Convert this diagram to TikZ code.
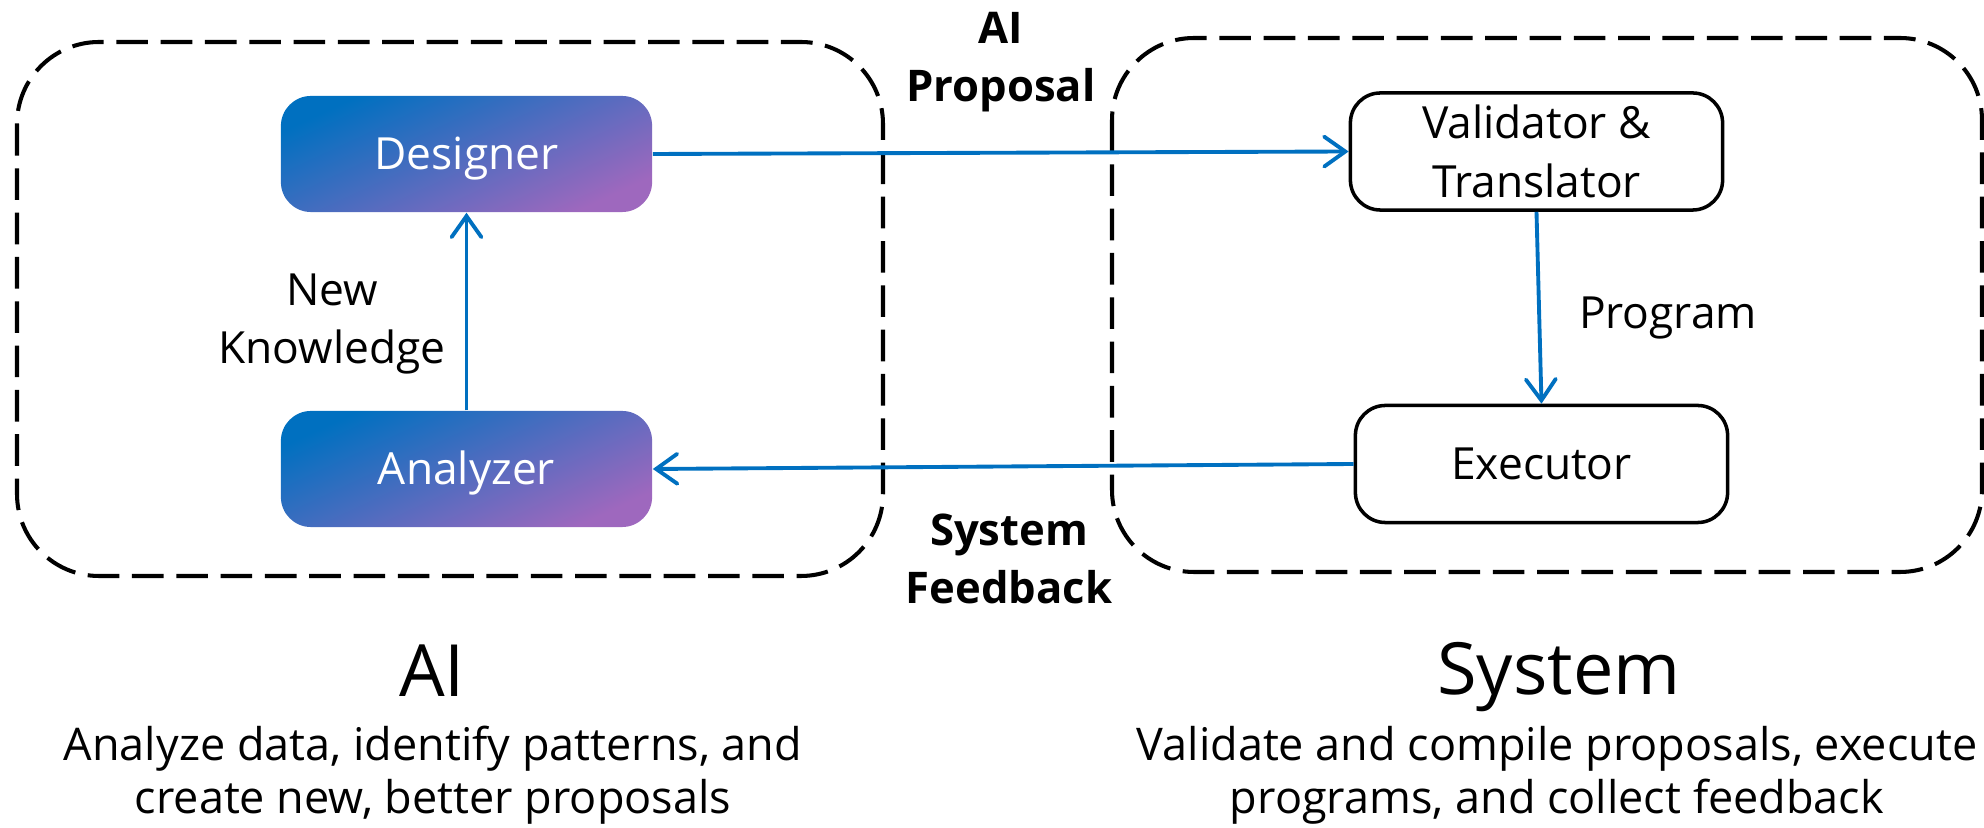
\documentclass[tikz,border=0pt]{standalone}
\usepackage{fontspec}
\setmainfont{Open Sans}
\usetikzlibrary{arrows.meta}

\definecolor{flowblue}{RGB}{0,112,192}
\definecolor{agentpurple}{RGB}{158,104,190}

\tikzset{
  group/.style={draw=black, line width=1.15pt, dash pattern=on 9pt off 3.6pt,
    rounded corners=0.82cm},
  agent/.style={rounded corners=0.3cm, minimum width=3.71cm, minimum height=1.16cm,
    inner sep=0pt, text=white, top color=flowblue, bottom color=agentpurple,
    shading angle=25, text height=9pt, text depth=0pt,
    font=\fontsize{12.6}{16.8}\selectfont},
  sysbox/.style={draw=black, line width=1pt, rounded corners=0.3cm, fill=white,
    minimum width=3.72cm, minimum height=1.17cm, inner sep=0pt, align=center,
    font=\fontsize{12.6}{16.8}\selectfont},
  flow/.style={draw=flowblue, line width=1.1pt,
    -{Straight Barb[length=6pt,width=8.5pt,line cap=round]}},
  label/.style={inner sep=0pt, align=center, font=\fontsize{12.6}{16.5}\selectfont},
  boldlabel/.style={inner sep=0pt, align=center,
    font=\fontsize{12.4}{16.5}\selectfont\bfseries},
  title/.style={inner sep=0pt, anchor=base, font=\fontsize{20.5}{24}\selectfont},
  caption/.style={inner sep=0pt, align=center, font=\fontsize{12.8}{15.1}\selectfont}
}

\begin{document}
\begin{tikzpicture}[x=0.01cm, y=-0.01cm]
  \useasboundingbox (0,0) rectangle (1984,828);

  % the two groups
  \draw[group] (17,42) rectangle (883,576);
  \draw[group] (1112,38) rectangle (1982,572);

  % AI side
  \node[agent] (designer) at (466.5,154) {Designer};
  \node[agent] (analyzer) at (466.5,469) {Analyzer};

  % system side
  \node[sysbox] (validator) at (1536.5,151.5) {Validator \&\\Translator};
  \node[sysbox, text height=9pt, text depth=0pt] (executor) at (1541.5,464) {Executor};

  % flows
  \draw[flow] (designer.east) -- (validator.west);
  \draw[flow] (validator.south) -- (executor.north);
  \draw[flow] (executor.west) -- (analyzer.east);
  \draw[flow] (analyzer.north) -- (designer.south);

  % flow labels
  \node[boldlabel] (proposal) at (1001,62) {AI\\Proposal};
  \node[boldlabel] (feedback) at (1009,559) {System\\Feedback};
  \node[label] (knowledge) at (332,324) {New\\Knowledge};
  \node[label] (program) at (1668,318) {Program};

  % captions
  \node[title] (aititle) at (432,697) {AI};
  \node[title] (systitle) at (1559,695) {System};
  \node[caption] (aicap) at (433,775)
    {Analyze data, identify patterns, and\\create new, better proposals};
  \node[caption] (syscap) at (1557,775)
    {Validate and compile proposals, execute\\programs, and collect feedback};
\end{tikzpicture}
\end{document}
